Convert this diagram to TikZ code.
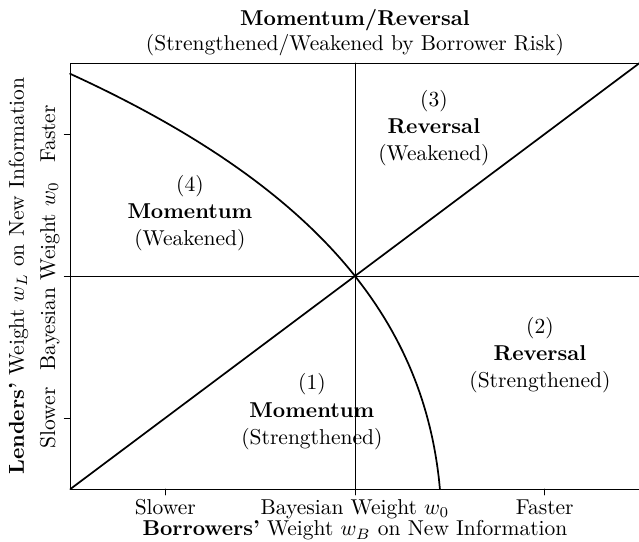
\documentclass[tikz,border=0pt]{standalone}
\usetikzlibrary{positioning}
\tikzset{
  region/.style={align=center, font=\fontsize{10pt}{12.6pt}\selectfont},
  curve/.style={thick},
}
\begin{document}
\begin{tikzpicture}[x=3.10cm, y=2.32cm, line join=round, line cap=round]
  \def\xmin{-1.5} \def\xmax{1.5} \def\ymin{-1.5} \def\ymax{1.5}
  \useasboundingbox (-1.871,-1.873) rectangle (1.497,1.944);
  \coordinate (SW) at (\xmin,\ymin);
  \coordinate (NE) at (\xmax,\ymax);
  \coordinate (O) at (0,0);
  % frame, axes and ticks
  \draw[thin] (SW) rectangle (NE);
  \draw[thin] (0,\ymin-0.042) -- (0,\ymax);
  \draw[thin] (\xmin-0.032,0) -- (\xmax,0);
  \foreach \t in {-1,1} {
    \draw[thin] (\t,\ymin) -- ++(0,-0.042);
    \draw[thin] (\xmin,\t) -- ++(-0.032,0);
  }
  % the two boundaries
  \draw[curve] (SW) -- (O) -- (NE);
  \draw[curve,smooth,samples=100,domain=\ymin:1.425] plot ({2.003*(1-exp(0.5*\x))+0.406*\x},\x);
  % title
  \node[anchor=base,font=\bfseries] (title) at (0,1.764) {Momentum/Reversal};
  \node[anchor=base] (subtitle) at (0,1.585) {(Strengthened/Weakened by Borrower Risk)};
  % regions
  \node[region] (r3) at (0.416,1.04) {(3)\\\textbf{Reversal}\\(Weakened)};
  \node[region] (r4) at (-0.87,0.444) {(4)\\\textbf{Momentum}\\(Weakened)};
  \node[region] (r2) at (0.975,-0.555) {(2)\\\textbf{Reversal}\\(Strengthened)};
  \node[region] (r1) at (-0.227,-0.955) {(1)\\\textbf{Momentum}\\(Strengthened)};
  % horizontal axis labels
  \node[anchor=base] (xslow) at (-1,-1.676) {Slower};
  \node[anchor=base] (xbay) at (0,-1.676) {Bayesian Weight $w_0$};
  \node[anchor=base] (xfast) at (1,-1.676) {Faster};
  \node[anchor=base] (xlab) at (0,-1.83) {\textbf{Borrowers'} Weight $w_B$ on New Information};
  % vertical axis labels
  \node[anchor=base,rotate=90] (yslow) at (-1.581,-1) {Slower};
  \node[anchor=base,rotate=90] (ybay) at (-1.581,0) {Bayesian Weight $w_0$};
  \node[anchor=base,rotate=90] (yfast) at (-1.581,1) {Faster};
  \node[anchor=base,rotate=90] (ylab) at (-1.745,0) {\textbf{Lenders'} Weight $w_L$ on New Information};
\end{tikzpicture}
\end{document}
